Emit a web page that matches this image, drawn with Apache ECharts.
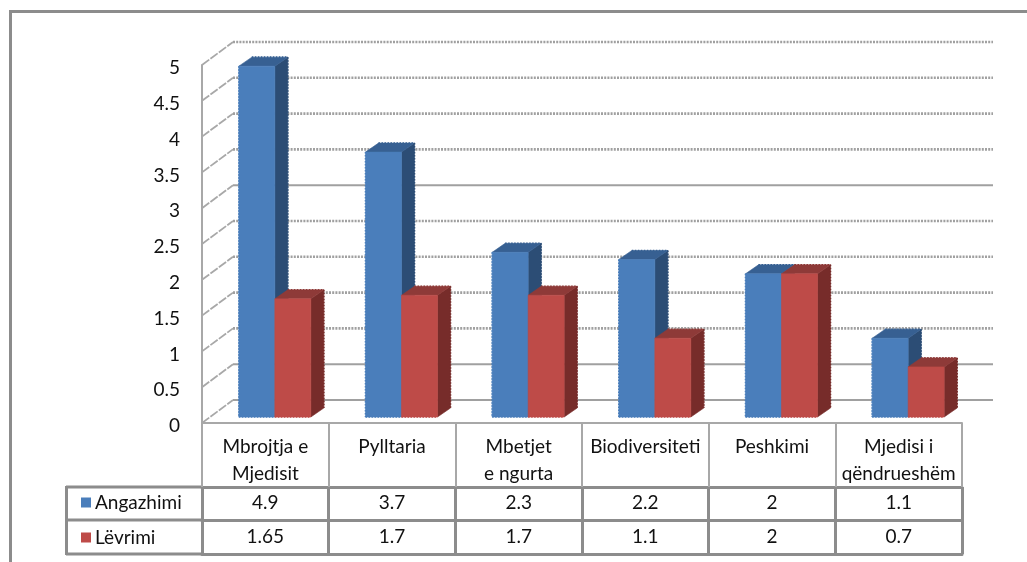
<!DOCTYPE html>
<html><head><meta charset="utf-8">
<style>html,body{margin:0;padding:0;background:#fff}#c{width:1027px;height:562px}</style>
<script src="https://cdn.jsdelivr.net/npm/echarts@6/dist/echarts.min.js"></script>
</head><body><div id="c"></div>
<script>
const categories = ["Mbrojtja e\nMjedisit","Pylltaria","Mbetjet\ne ngurta","Biodiversiteti","Peshkimi","Mjedisi i\nqëndrueshëm"];
const angazhimi = [4.9,3.7,2.3,2.2,2,1.1];
const levrimi = [1.65,1.7,1.7,1.1,2,0.7];
const gridValues = [0,0.5,1,1.5,2,2.5,3,3.5,4,4.5,5];
const dottedGrid = [0,0,1,1,1,1,0,1,1,1,1];

const FONT = 'Lato';
const FS = 19;
const chart = echarts.init(document.getElementById('c'));
const L=202,R=962,T=65,B=423;
const WALL=[31,-23], BW=36, BS=[9.5,-6], D=[13,-9];

function barRender(sign, front, top, side){
  return function(params, api){
    const p = api.coord([api.value(0), api.value(1)]);
    const z = api.coord([api.value(0), 0]);
    const x0 = p[0]+BS[0]+(sign<0?-BW:0), x1=x0+BW;
    const yt = p[1]+BS[1], yb = z[1]+BS[1];
    const poly=(pts,fill)=>({type:'polygon',shape:{points:pts},style:{fill:fill,stroke:fill,lineWidth:0.6}});
    const edge=(pts,col)=>({type:'polyline',shape:{points:pts},style:{fill:null,stroke:col,lineWidth:1.6,lineDash:[1.5,1.5]}});
    const kids=[
      poly([[x1,yt],[x1+D[0],yt+D[1]],[x1+D[0],yb+D[1]],[x1,yb]],side),
      poly([[x0,yt],[x0+D[0],yt+D[1]],[x1+D[0],yt+D[1]],[x1,yt]],top),
      poly([[x0,yt],[x1,yt],[x1,yb],[x0,yb]],front),
      edge([[x0,yb],[x1,yb]],front),
      edge([[x1+D[0],yt+D[1]],[x1+D[0],yb+D[1]]],side),
      edge([[x0+D[0],yt+D[1]],[x1+D[0],yt+D[1]]],top)
    ];
    if(sign<0) kids.push(edge([[x0,yt],[x0,yb]],front));
    return {type:'group',children:kids};
  };
}
const lineCol='#8c8c8c';
const rowAxis=(off,labels,margin,tickLen,col,w)=>({type:'category',gridIndex:0,position:'bottom',offset:off,data:labels,
  axisLine:{show:true,onZero:false,lineStyle:{color:col,width:w}},
  axisTick:{show:tickLen>0,length:tickLen,alignWithLabel:false,lineStyle:{color:col,width:w}},
  axisLabel:{interval:0,color:'#111',fontFamily:FONT,fontSize:FS,margin:margin,lineHeight:27,verticalAlign:'top',hideOverlap:false}});
chart.setOption({
  animation:false,
  backgroundColor:'#fff',
  textStyle:{fontFamily:FONT},
  grid:{left:L,top:T,width:R-L,height:B-T,containLabel:false},
  xAxis:[
    rowAxis(0,categories,10,64,'#a8a8a8',2),
    rowAxis(64,angazhimi.map(String),2,67,lineCol,3),
    rowAxis(97,levrimi.map(String),3,0,lineCol,3),
    rowAxis(131,categories.map(()=>''),2,0,lineCol,3)
  ],
  yAxis:{type:'value',min:0,max:5,interval:0.5,
    axisLine:{show:true,lineStyle:{color:'#a8a8a8',width:2}},
    axisTick:{show:false},splitLine:{show:false},
    axisLabel:{color:'#111',fontFamily:FONT,fontSize:FS,margin:22,verticalAlign:'top',lineHeight:6,formatter:v=>String(v)}},
  legend:{orient:'vertical',left:76,top:488,itemGap:16,itemWidth:10,itemHeight:10,icon:'rect',
    textStyle:{fontFamily:FONT,fontSize:FS,color:'#111',padding:[0,0,0,-1]},
    data:[{name:'Angazhimi',itemStyle:{color:'#4a7ebb'}},{name:'Lëvrimi',itemStyle:{color:'#be4b48'}}]},
  series:[
    {type:'custom',name:'wall',silent:true,xAxisIndex:0,encode:{x:-1,y:0},clip:false,
      data:gridValues.map((v,i)=>[v,dottedGrid[i]]),
      renderItem:function(p,api){
        const v=api.value(0),d=api.value(1);
        const y=api.coord([0,v])[1];
        const st={stroke:'#a0a0a0',lineWidth:d?2.6:2,lineDash:d?[2,1.2]:null,fill:null};
        return {type:'group',children:[
          {type:'line',shape:{x1:L+WALL[0],y1:y+WALL[1],x2:R+WALL[0],y2:y+WALL[1]},style:st},
          {type:'line',shape:{x1:L,y1:y,x2:L+WALL[0],y2:y+WALL[1]},style:{stroke:'#a8a8a8',lineWidth:1.8,lineDash:[9,1.5]}}
        ]};
      }},
    {type:'custom',name:'Angazhimi',xAxisIndex:0,encode:{x:0,y:1},clip:false,itemStyle:{color:'#4a7ebb'},
      data:angazhimi.map((v,i)=>[i,v]),renderItem:barRender(-1,'#4a7ebb','#376092','#2c4d75')},
    {type:'custom',name:'Lëvrimi',xAxisIndex:0,encode:{x:0,y:1},clip:false,itemStyle:{color:'#be4b48'},
      data:levrimi.map((v,i)=>[i,v]),renderItem:barRender(1,'#be4b48','#8e3a38','#772c2a')}
  ],
  graphic:[
    {type:'line',shape:{x1:66,y1:487,x2:202,y2:487},style:{stroke:lineCol,lineWidth:3}},
    {type:'line',shape:{x1:66,y1:520,x2:202,y2:520},style:{stroke:lineCol,lineWidth:3}},
    {type:'line',shape:{x1:66,y1:554,x2:202,y2:554},style:{stroke:lineCol,lineWidth:3}},
    {type:'line',shape:{x1:66.5,y1:486,x2:66.5,y2:555},style:{stroke:lineCol,lineWidth:3}},
    {type:'line',shape:{x1:10.5,y1:10,x2:10.5,y2:562},style:{stroke:lineCol,lineWidth:3}},
    {type:'line',shape:{x1:9,y1:11.5,x2:1027,y2:11.5},style:{stroke:lineCol,lineWidth:3}}
  ]
});
</script></body></html>
